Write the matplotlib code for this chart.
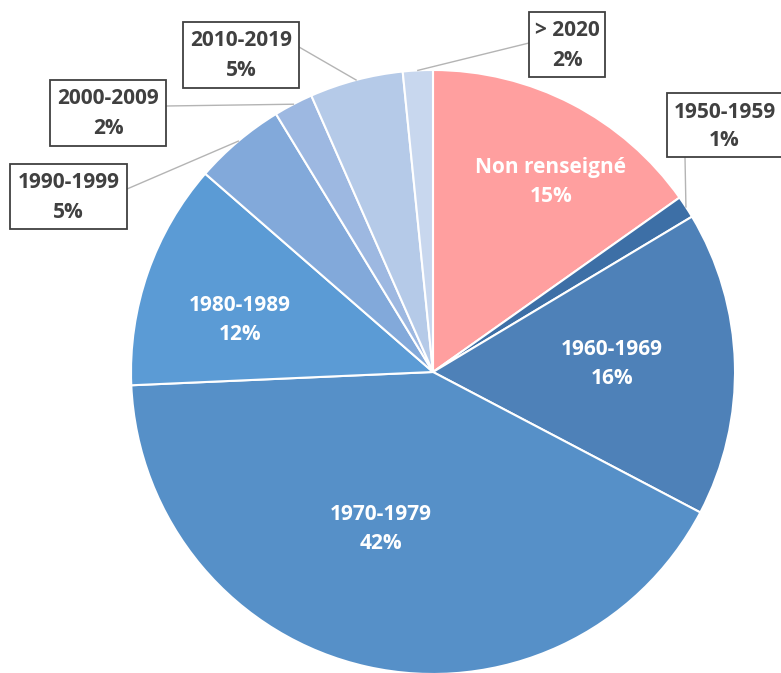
import numpy as np
import matplotlib
matplotlib.use('Agg')
import matplotlib.pyplot as plt
from matplotlib.patches import Rectangle

# data (shares, labels as printed)
categories = ['Non renseigné', '1950-1959', '1960-1969', '1970-1979', '1980-1989',
              '1990-1999', '2000-2009', '2010-2019', '> 2020']
shares = [15.2, 1.2, 16.3, 41.6, 12.1, 4.9, 2.1, 5.0, 1.6]
pct_labels = ['15%', '1%', '16%', '42%', '12%', '5%', '2%', '5%', '2%']

colors = ['#FF9F9F', '#3D6FA6', '#4E81B8', '#5690C8', '#5B9BD5',
          '#82A9DA', '#9DB8E1', '#B5CAE8', '#C8D7EE']

W, H = 781, 673
def Y(y):
    return H - y

cx, cy, R = 433, Y(372), 302

# inside labels: (radius fraction, clockwise nudge in degrees)
inside = {0: (0.742, 4.4), 2: (0.593, -1.0), 3: (0.545, 5.8), 4: (0.663, -4.2)}

# outside callout boxes (image px): x0, y0, x1, y1, box anchor for leader
boxes = {
    1: (667, 93, 782, 157, (685, 157)),
    5: (10, 164, 127, 229, (127, 189)),
    6: (50, 80, 166, 146, (166, 106)),
    7: (183, 22, 299, 88, (299, 47)),
    8: (529, 12, 605, 77, (529, 43)),
}

plt.rcParams['font.family'] = ['Open Sans', 'DejaVu Sans']
fig = plt.figure(figsize=(W / 100, H / 100), dpi=100)
ax = fig.add_axes([0, 0, 1, 1])
ax.axis('off')

wedges, _ = ax.pie(shares, colors=colors, startangle=90, counterclock=False,
                   center=(cx, cy), radius=R,
                   wedgeprops=dict(edgecolor='white', linewidth=1.5))
ax.set_xlim(0, W)
ax.set_ylim(0, H)
ax.set_aspect('auto')

fs = 15
for i, w in enumerate(wedges):
    mid = np.deg2rad((w.theta1 + w.theta2) / 2)
    if i in inside:
        frac, nudge = inside[i]
        a = mid - np.deg2rad(nudge)
        tx, ty = cx + frac * R * np.cos(a), cy + frac * R * np.sin(a)
        ax.text(tx, ty + 14, categories[i], color='white', fontsize=fs,
                fontweight='bold', ha='center', va='center')
        ax.text(tx, ty - 15, pct_labels[i], color='white', fontsize=fs,
                fontweight='bold', ha='center', va='center')
    elif i in boxes:
        x0, y0, x1, y1, (bx, by) = boxes[i]
        px, py = cx + R * np.cos(mid), cy + R * np.sin(mid)
        ax.plot([bx, px], [Y(by), py], color='#B4B4B4', lw=1, zorder=1)
        ax.add_patch(Rectangle((x0, Y(y1)), x1 - x0, y1 - y0, facecolor='white',
                               edgecolor='#404040', lw=1.3, zorder=3))
        xm = (x0 + x1) / 2
        ax.text(xm, Y(y0 + 19), categories[i], color='#404040', fontsize=fs,
                fontweight='bold', ha='center', va='center', zorder=4)
        ax.text(xm, Y(y0 + 48), pct_labels[i], color='#404040', fontsize=fs,
                fontweight='bold', ha='center', va='center', zorder=4)

fig.savefig('out.png', dpi=100)
